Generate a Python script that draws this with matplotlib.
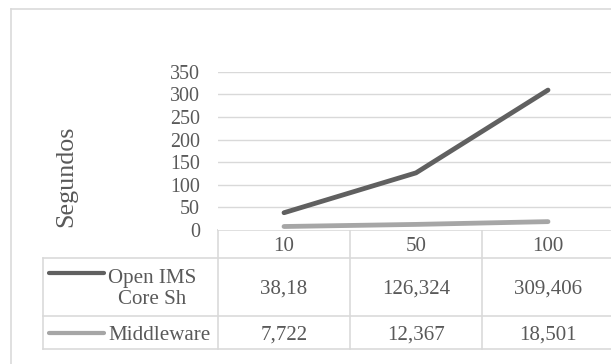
import matplotlib
matplotlib.use("Agg")
import matplotlib.pyplot as plt
from matplotlib.lines import Line2D

# Data
categories = ["10", "50", "100"]
series_names = ["Open IMS\nCore Sh", "Middleware"]
open_ims = [38.18, 126.324, 309.406]
middleware = [7.722, 12.367, 18.501]
value_labels = [["38,18", "126,324", "309,406"],
                ["7,722", "12,367", "18,501"]]
yticks = [0, 50, 100, 150, 200, 250, 300, 350]

series_values = [open_ims, middleware]
series_colors = ["#606060", "#a6a6a6"]
text_color = "#595959"
grid_color = "#d9d9d9"
font = ["Liberation Serif", "DejaVu Serif"]

W, H = 611, 364
DPI = 100
fig = plt.figure(figsize=(W / DPI, H / DPI), dpi=DPI)
fig.patch.set_facecolor("white")

PT = 72 / DPI  # points per pixel

def fx(px):
    return px / W

def fy(py):
    return 1 - py / H

# Layout in pixels
plot_left, plot_right = 218, 614
plot_top, plot_bottom = 71.7, 230
row_bottoms = [258, 316, 349]   # header row, series rows
table_left = 43
text_shift = 2.5                # nudge cell text towards the visual centre

# Line chart axes
ax = fig.add_axes([fx(plot_left), fy(plot_bottom),
                   fx(plot_right) - fx(plot_left), fy(plot_top) - fy(plot_bottom)])
ax.set_xlim(-0.5, len(categories) - 0.5)
ax.set_ylim(0, 350)
ax.set_yticks(yticks)
ax.set_yticklabels([str(t) for t in yticks], fontfamily=font,
                   fontsize=20 * PT, color=text_color)
ax.tick_params(axis="y", length=0, pad=18 * PT)
ax.set_xticks([])
for s in ax.spines.values():
    s.set_visible(False)
for t in yticks[1:]:
    ax.axhline(t, color=grid_color, lw=1.4 * PT, zorder=0)
xs = list(range(len(categories)))
for vals, col in zip(series_values, series_colors):
    ax.plot(xs, vals, color=col, lw=4.8 * PT, solid_capstyle="round",
            solid_joinstyle="round", zorder=3, clip_on=False)

fig.text(fx(66), fy(176), "Segundos", rotation=90, ha="center", va="center",
         fontfamily=font, fontsize=26 * PT, color=text_color)

# Overlay in pixel coordinates for frame and data table
ov = fig.add_axes([0, 0, 1, 1], zorder=-1)
ov.set_xlim(0, W)
ov.set_ylim(H, 0)
ov.axis("off")

def hline(x0, x1, y, **kw):
    ov.add_line(Line2D([x0, x1], [y, y], color=grid_color, lw=1.6 * PT, **kw))

def vline(x, y0, y1, **kw):
    ov.add_line(Line2D([x, x], [y0, y1], color=grid_color, lw=1.6 * PT, **kw))

# Outer chart frame
hline(11, W + 5, 8.5)
vline(11, 8.5, H + 5)

# Table grid
col_w = (plot_right - plot_left) / len(categories)
col_edges = [plot_left + i * col_w for i in range(len(categories) + 1)]
hline(plot_left, W + 5, plot_bottom)
for yb in row_bottoms:
    hline(table_left, W + 5, yb)
vline(table_left, row_bottoms[0], row_bottoms[-1])
for x in col_edges[:-1]:
    vline(x, plot_bottom, row_bottoms[-1])

cell_font = dict(fontfamily=font, fontsize=21 * PT, color=text_color,
                 ha="center", va="center")

# Header row with category labels
for i, cat in enumerate(categories):
    cx = (col_edges[i] + col_edges[i + 1]) / 2
    ov.text(cx, (plot_bottom + row_bottoms[0]) / 2 + text_shift, cat, **cell_font)

# Series rows: legend key, name, values
row_tops = row_bottoms[:-1]
for r, (name, col) in enumerate(zip(series_names, series_colors)):
    y0, y1 = row_tops[r], row_bottoms[r + 1]
    cy = (y0 + y1) / 2
    key_y = cy - 14 if r == 0 else cy
    ov.add_line(Line2D([49, 104], [key_y, key_y],
                       color=col, lw=4.2 * PT, solid_capstyle="round"))
    if r == 0:
        ov.text(152, cy + 2, name, linespacing=1.2, **cell_font)
    else:
        ov.text(160, cy + text_shift, name, **cell_font)
    for i, lab in enumerate(value_labels[r]):
        cx = (col_edges[i] + col_edges[i + 1]) / 2
        ov.text(cx, cy + text_shift, lab, **cell_font)

fig.savefig("out.png", dpi=DPI, facecolor="white")
